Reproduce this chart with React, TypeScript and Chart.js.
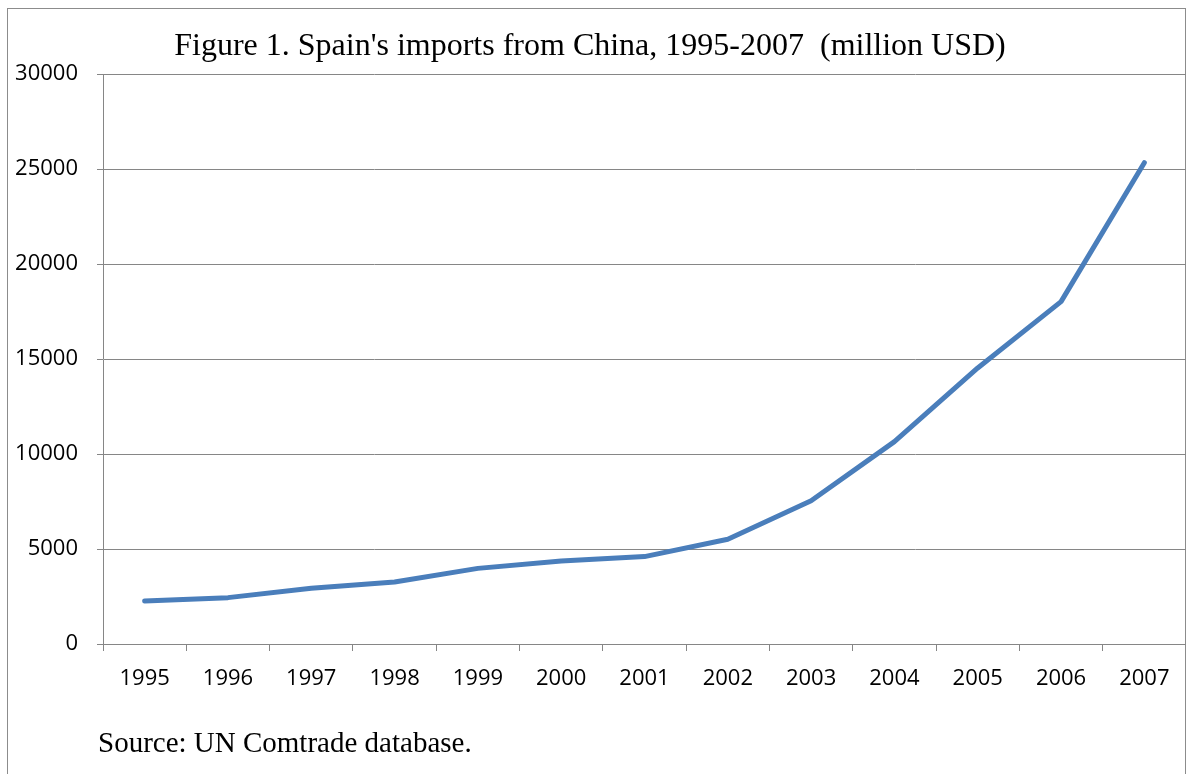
import React, { useEffect, useRef } from "react";
import { Chart, registerables } from "chart.js";

Chart.register(...registerables);

const years = ["1995", "1996", "1997", "1998", "1999", "2000", "2001", "2002", "2003", "2004", "2005", "2006", "2007"];
const imports = [2260, 2440, 2930, 3260, 3980, 4370, 4600, 5510, 7540, 10650, 14530, 18020, 25330];
const yMin = 0;
const yMax = 30000;
const yStep = 5000;

const titleText = "Figure 1. Spain's imports from China, 1995-2007  (million USD)";
const sourceText = "Source: UN Comtrade database.";

const W = 1186;
const H = 774;

export default function App() {
  const ref = useRef<HTMLCanvasElement | null>(null);

  useEffect(() => {
    if (!ref.current) return;
    const chart = new Chart(ref.current, {
      type: "line",
      data: {
        labels: years,
        datasets: [
          {
            data: imports,
            borderColor: "#4a7ebb",
            borderWidth: 5,
            borderCapStyle: "round",
            borderJoinStyle: "round",
            pointRadius: 0,
            tension: 0,
            fill: false,
          },
        ],
      },
      options: {
        responsive: false,
        animation: false,
        layout: { padding: { left: 0, right: 0, top: 74, bottom: 60 } },
        plugins: { legend: { display: false }, tooltip: { enabled: false }, title: { display: false } },
        scales: {
          x: {
            offset: true,
            grid: {
              offset: true,
              drawOnChartArea: false,
              drawTicks: true,
              tickLength: 7,
              color: "#868686",
              lineWidth: 1,
            },
            border: { display: true, color: "#868686", width: 1 },
            ticks: {
              color: "#000",
              padding: 15,
              font: { family: "'Open Sans'", size: 22 },
              maxRotation: 0,
              autoSkip: false,
            },
            afterFit: (s: any) => {
              s.height = 70;
            },
          },
          y: {
            min: yMin,
            max: yMax,
            grid: { color: "#868686", lineWidth: 1, tickLength: 6, drawTicks: true },
            border: { display: true, color: "#868686", width: 1 },
            ticks: {
              stepSize: yStep,
              color: "#000",
              padding: 19,
              font: { family: "'Open Sans'", size: 22 },
              callback: (v: any) => String(v),
            },
            afterFit: (s: any) => {
              s.width = 103;
            },
          },
        },
      },
    });
    return () => chart.destroy();
  }, []);

  return (
    <div style={{ position: "absolute", left: 0, top: 0, width: W, height: H, overflow: "hidden", background: "#fff" }}>
      <div
        style={{
          position: "absolute",
          left: 7,
          top: 8,
          width: 1177,
          height: 766,
          borderLeft: "1px solid #8c8c8c",
          borderTop: "1px solid #8c8c8c",
          borderRight: "1px solid #8c8c8c",
        }}
      />
      <canvas ref={ref} width={W} height={H} style={{ position: "absolute", left: 0, top: 0 }} />
      <div
        style={{
          position: "absolute",
          left: 0,
          width: 1180,
          top: 28,
          textAlign: "center",
          fontFamily: "'Liberation Serif', 'Times New Roman', serif",
          fontSize: 32,
          lineHeight: 1,
          whiteSpace: "pre",
          color: "#000",
        }}
      >
        {titleText}
      </div>
      <div
        style={{
          position: "absolute",
          left: 98,
          top: 728,
          fontFamily: "'Liberation Serif', 'Times New Roman', serif",
          fontSize: 29,
          lineHeight: 1,
          whiteSpace: "pre",
          color: "#000",
        }}
      >
        {sourceText}
      </div>
    </div>
  );
}
